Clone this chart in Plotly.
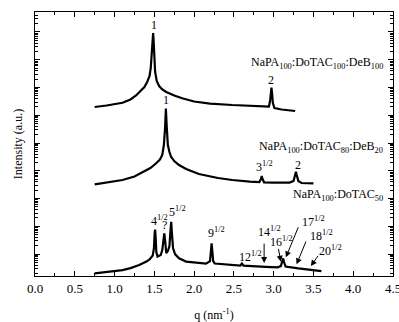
import numpy as np
import plotly.graph_objects as go

# q values (nm^-1) and log10(intensity)
q_top = [0.75, 0.9, 1.1, 1.2, 1.27, 1.33, 1.375, 1.41, 1.44, 1.455, 1.468, 1.478, 1.485, 1.492,
         1.50, 1.51, 1.53, 1.56, 1.60, 1.65, 1.75, 1.85, 2.0, 2.2, 2.48, 2.7, 2.9, 2.94, 2.955,
         2.965, 2.972, 2.98, 2.99, 3.01, 3.1, 3.27]
logI_top = [5.297, 5.351, 5.452, 5.568, 5.712, 5.874, 6.018, 6.198, 6.414, 6.703, 7.171, 7.784,
            7.964, 7.640, 6.919, 6.559, 6.234, 6.054, 5.928, 5.838, 5.712, 5.611, 5.495, 5.423,
            5.369, 5.333, 5.308, 5.315, 5.514, 5.838, 6.0, 5.802, 5.441, 5.261, 5.207, 5.153]

q_mid = [0.75, 0.9, 1.1, 1.25, 1.35, 1.45, 1.52, 1.57, 1.60, 1.62, 1.635, 1.645, 1.655, 1.67,
         1.69, 1.71, 1.75, 1.81, 1.9, 2.06, 2.3, 2.48, 2.7, 2.82, 2.84, 2.85, 2.86, 2.88, 3.0,
         3.2, 3.25, 3.27, 3.28, 3.29, 3.31, 3.35, 3.5]
logI_mid = [2.512, 2.577, 2.667, 2.793, 2.937, 3.099, 3.261, 3.405, 3.568, 3.928, 4.541, 5.243,
            4.649, 3.928, 3.676, 3.506, 3.351, 3.207, 3.063, 2.883, 2.739, 2.667, 2.613, 2.595,
            2.703, 2.811, 2.703, 2.584, 2.577, 2.577, 2.631, 2.847, 2.966, 2.847, 2.631, 2.559,
            2.548]

q_bot = [0.75, 0.9, 1.1, 1.2, 1.31, 1.4, 1.44, 1.48, 1.495, 1.505, 1.51, 1.517, 1.525, 1.54,
         1.58, 1.60, 1.615, 1.625, 1.635, 1.65, 1.67, 1.69, 1.70, 1.712, 1.72, 1.735, 1.76, 1.81,
         1.9, 2.06, 2.15, 2.2, 2.21, 2.22, 2.23, 2.24, 2.26, 2.48, 2.58, 2.6, 2.62, 2.9, 3.05,
         3.09, 3.11, 3.12, 3.13, 3.15, 3.31, 3.45, 3.6]
logI_bot = [-0.695, -0.649, -0.577, -0.505, -0.396, -0.270, -0.191, -0.054, 0.216, 0.793, 0.883,
            0.577, 0.072, -0.090, -0.036, 0.144, 0.649, 0.746, 0.505, 0.036, 0.108, 0.288, 0.721,
            1.164, 0.793, 0.216, 0.0, -0.155, -0.270, -0.324, -0.342, -0.252, 0.072, 0.386,
            0.072, -0.252, -0.342, -0.396, -0.414, -0.342, -0.414, -0.458, -0.479, -0.432,
            -0.216, -0.155, -0.288, -0.450, -0.515, -0.559, -0.613]

x_ticks = [0.0, 0.5, 1.0, 1.5, 2.0, 2.5, 3.0, 3.5, 4.0, 4.5]

# label texts with (q, log10 I) positions
peak_labels = [
    ("1", 1.495, 8.25), ("1", 1.65, 5.55), ("2", 2.97, 6.27),
    ("3<sup>1/2</sup>", 2.89, 3.146), ("2", 3.30, 3.207),
    ("4<sup>1/2</sup>", 1.567, 1.225), ("?", 1.625, 1.05), ("5<sup>1/2</sup>", 1.797, 1.524),
    ("9<sup>1/2</sup>", 2.28, 0.768), ("12<sup>1/2</sup>", 2.71, -0.097),
    ("14<sup>1/2</sup>", 2.95, 0.80), ("16<sup>1/2</sup>", 3.10, 0.443),
    ("17<sup>1/2</sup>", 3.50, 1.164), ("18<sup>1/2</sup>", 3.605, 0.685),
    ("20<sup>1/2</sup>", 3.72, 0.144),
]
# arrows: (tail q, tail logI, head q, head logI)
arrows = [
    (2.88, 0.432, 2.88, -0.324),
    (3.057, 0.241, 3.09, -0.277),
    (3.317, 1.02, 3.153, -0.119),
    (3.413, 0.505, 3.288, -0.371),
    (3.572, -0.011, 3.467, -0.432),
]
series_labels = [
    ("NaPA<sub>100</sub>:DoTAC<sub>100</sub>:DeB<sub>100</sub>", 4.40, 6.87),
    ("NaPA<sub>100</sub>:DoTAC<sub>80</sub>:DeB<sub>20</sub>", 4.40, 3.87),
    ("NaPA<sub>100</sub>:DoTAC<sub>50</sub>", 4.40, 2.13),
]

FONT = "Liberation Serif"

fig = go.Figure()
for q, li in [(q_top, logI_top), (q_mid, logI_mid), (q_bot, logI_bot)]:
    fig.add_trace(go.Scatter(x=q, y=10 ** np.array(li), mode="lines",
                             line=dict(color="black", width=2.2), showlegend=False,
                             hoverinfo="skip"))

for txt, x, y in peak_labels:
    fig.add_annotation(x=x, y=y, xref="x", yref="y", text=txt, showarrow=False,
                       font=dict(family=FONT, size=12, color="black"),
                       xanchor="center", yanchor="middle")

for tx, ty, hx, hy in arrows:
    fig.add_annotation(x=hx, y=hy, ax=tx, ay=ty, xref="x", yref="y", axref="x", ayref="y",
                       text="", showarrow=True, arrowhead=2, arrowsize=1.2, arrowwidth=1,
                       arrowcolor="black")

for txt, x, y in series_labels:
    fig.add_annotation(x=x, y=y, xref="x", yref="y", text=txt, showarrow=False,
                       font=dict(family=FONT, size=12, color="black"),
                       xanchor="right", yanchor="middle")

fig.update_layout(
    width=399, height=322,
    margin=dict(l=35, r=6, t=12, b=46),
    paper_bgcolor="white", plot_bgcolor="white",
    font=dict(family=FONT, size=12, color="black"),
    xaxis=dict(range=[0, 4.5], tickvals=x_ticks, ticktext=[f"{v:.1f}" for v in x_ticks],
               ticks="inside", ticklen=5, tickcolor="black", showline=True, linecolor="black",
               linewidth=1, mirror="allticks", showgrid=False, zeroline=False,
               ticklabeloverflow="allow", tickfont=dict(family=FONT, size=13), automargin=False,
               minor=dict(dtick=0.25, ticks="inside", ticklen=3, tickcolor="black", showgrid=False),
               title=dict(text="q (nm<sup>-1</sup>)", font=dict(family=FONT, size=12), standoff=18)),
    yaxis=dict(type="log", range=[-0.79, 8.72], dtick=1, showticklabels=False,
               ticks="inside", ticklen=5, tickcolor="black", showline=True, linecolor="black",
               linewidth=1, mirror="allticks", showgrid=False, zeroline=False, automargin=False,
               minor=dict(ticks="inside", ticklen=3, tickcolor="black", showgrid=False),
               title=dict(text="Intensity (a.u.)", font=dict(family=FONT, size=12), standoff=8)),
)

fig.write_html("out.html", config={"displayModeBar": False},
               post_script="document.body.style.margin='0';")
